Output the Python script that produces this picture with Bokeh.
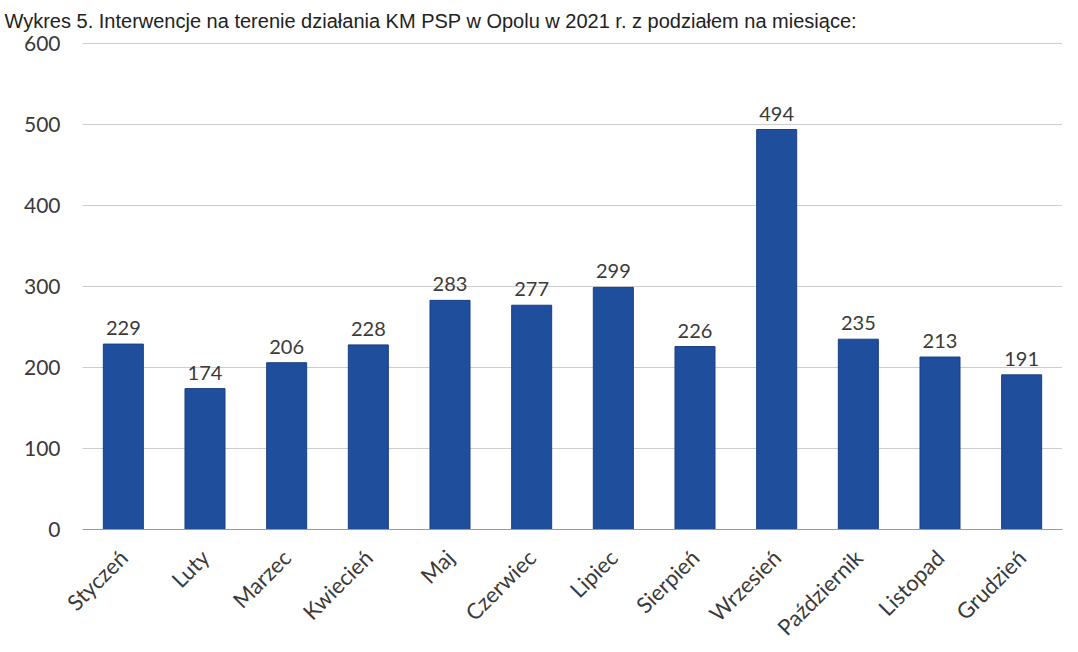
from bokeh.plotting import figure
from bokeh.models import ColumnDataSource, FixedTicker, Title
from bokeh.core.properties import value
from bokeh.embed import file_html
from bokeh.resources import INLINE
import math

months = ["Styczeń", "Luty", "Marzec", "Kwiecień", "Maj", "Czerwiec",
          "Lipiec", "Sierpień", "Wrzesień", "Październik", "Listopad", "Grudzień"]
counts = [229, 174, 206, 228, 283, 277, 299, 226, 494, 235, 213, 191]
y_ticks = [0, 100, 200, 300, 400, 500, 600]
title_text = "Wykres 5. Interwencje na terenie działania KM PSP w Opolu w 2021 r. z podziałem na miesiące:"

src = ColumnDataSource(dict(m=months, c=counts, t=[str(v) for v in counts]))

FONT = "Lato"

p = figure(width=1078, height=652, x_range=months, y_range=(0, 601.5),
           output_backend="svg", toolbar_location=None,
           min_border_left=82, min_border_right=16, min_border_top=41, min_border_bottom=123)
p.outline_line_color = None
p.background_fill_color = "white"

t = Title(text=title_text, text_font="Liberation Sans", text_font_size="20px",
          text_color="#222222", text_font_style="normal", align="left",
          vertical_align="top", offset=-78, standoff=18)
p.add_layout(t, "above")

p.vbar(x="m", top="c", width=0.49, source=src, fill_color="#1f4e9c",
       line_color="#1a3f85", line_width=1)

p.text(x="m", y="c", text="t", source=src, text_align="center", text_baseline="bottom",
       y_offset=-9, text_font=value(FONT), text_font_size="20px", text_color="#3a3a3a")

p.xgrid.grid_line_color = None
p.ygrid.grid_line_color = "#9a9a9a"
p.ygrid.grid_line_width = 1
p.ygrid.grid_line_dash = "1 1"

p.yaxis.ticker = FixedTicker(ticks=y_ticks)
p.yaxis.axis_line_color = None
p.yaxis.major_tick_line_color = None
p.yaxis.minor_tick_line_color = None
p.yaxis.major_tick_out = 0
p.yaxis.major_tick_in = 0
p.yaxis.major_label_standoff = 22
p.yaxis.major_label_text_font = FONT
p.yaxis.major_label_text_font_size = "21px"
p.yaxis.major_label_text_color = "#3a3a3a"

p.xaxis.axis_line_color = "#9a9a9a"
p.xaxis.major_tick_line_color = None
p.xaxis.minor_tick_line_color = None
p.xaxis.major_tick_out = 0
p.xaxis.major_tick_in = 0
p.xaxis.major_label_orientation = math.pi / 4
p.xaxis.major_label_standoff = 24
p.xaxis.major_label_text_font = FONT
p.xaxis.major_label_text_font_size = "22px"
p.xaxis.major_label_text_color = "#3a3a3a"

open("out.html", "w").write(file_html(p, INLINE))
